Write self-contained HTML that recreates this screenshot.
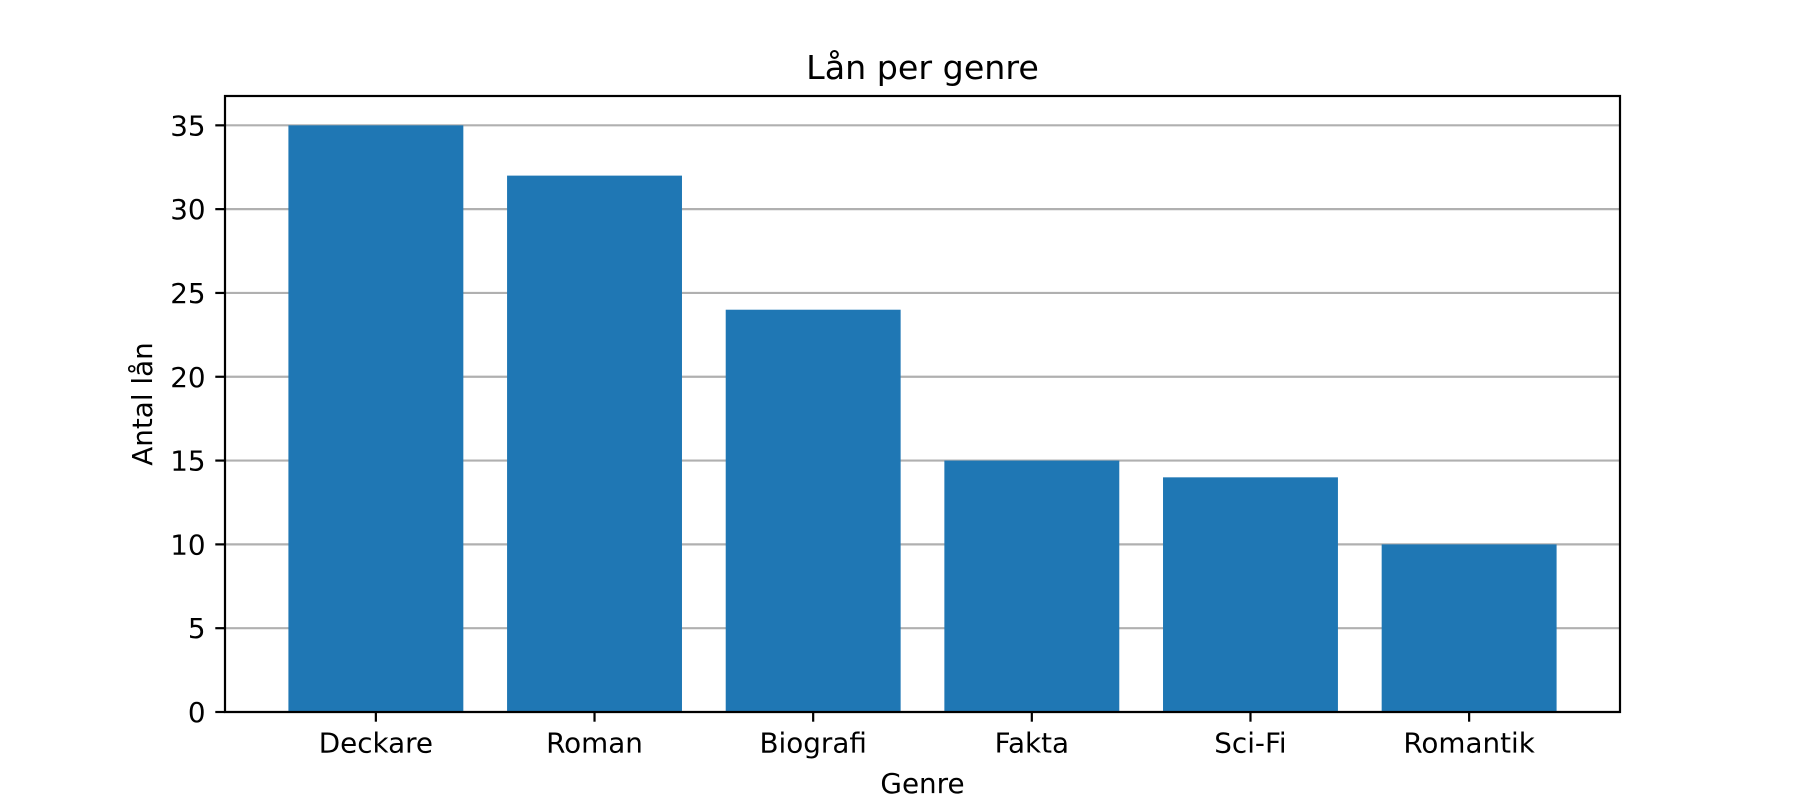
<!DOCTYPE html>
<html><head><meta charset="utf-8"><style>body{margin:0;background:#fff}svg{display:block}text{font-family:"DejaVu Sans","Liberation Sans",sans-serif;fill:#000}</style></head>
<body>
<svg id="chart" width="1800" height="800" xmlns="http://www.w3.org/2000/svg"></svg>
<script>
const categories = ["Deckare","Roman","Biografi","Fakta","Sci-Fi","Romantik"];
const values = [35,32,24,15,14,10];
const yTicks = [0,5,10,15,20,25,30,35];
const L=225,R=1620,T=96,B=712;
const xmin=-0.69,xmax=5.69,ymin=0,ymax=36.75;
const sx=v=>L+(v-xmin)/(xmax-xmin)*(R-L);
const sy=v=>B-(v-ymin)/(ymax-ymin)*(B-T);
const svg=document.getElementById('chart');
const NS='http://www.w3.org/2000/svg';
function mk(tag,attrs,parent){const e=document.createElementNS(NS,tag);for(const k in attrs)e.setAttribute(k,attrs[k]);(parent||svg).appendChild(e);return e;}
yTicks.forEach(t=>{
  const g=mk('line',{x1:L,x2:R,y1:sy(t),y2:sy(t),stroke:'#b0b0b0','stroke-width':2.2});
  
  
});
categories.forEach((c,i)=>{
  const x0=sx(i-0.4),x1=sx(i+0.4);
  const r=mk('rect',{x:x0,y:sy(values[i]),width:x1-x0,height:sy(0)-sy(values[i]),fill:'#1f77b4'});
  
  
  const tk=mk('line',{x1:sx(i),x2:sx(i),y1:B,y2:B+9.7,stroke:'#000','stroke-width':2.2});
  
  
  const tl=mk('text',{x:sx(i),y:B+19.4+21,'text-anchor':'middle','font-size':27.8});
  tl.textContent=c;
  
  
});
yTicks.forEach(t=>{
  const tk=mk('line',{x1:L-9.7,x2:L,y1:sy(t),y2:sy(t),stroke:'#000','stroke-width':2.2});
  
  
  const tl=mk('text',{x:L-19.4,y:sy(t)+10,'text-anchor':'end','font-size':27.8});
  tl.textContent=t;
  
  
});
const fr=mk('rect',{x:L,y:T,width:R-L,height:B-T,fill:'none',stroke:'#000','stroke-width':2.2});


const ti=mk('text',{x:(L+R)/2,y:79,'text-anchor':'middle','font-size':33.3});
ti.textContent='Lån per genre';


const xl=mk('text',{x:(L+R)/2,y:793,'text-anchor':'middle','font-size':27.8});
xl.textContent='Genre';


const yl=mk('text',{x:0,y:0,'text-anchor':'middle','font-size':27.8,transform:'translate(152,'+((T+B)/2)+') rotate(-90)'});
yl.textContent='Antal lån';


</script>
</body></html>
